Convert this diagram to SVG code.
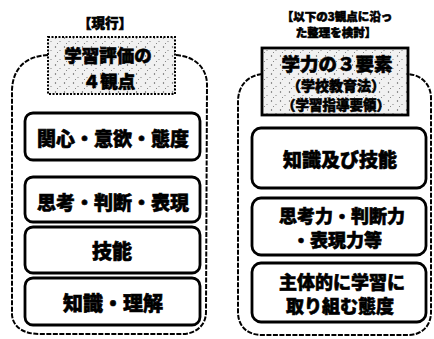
<svg xmlns="http://www.w3.org/2000/svg" width="434" height="339" viewBox="0 0 434 339">
<defs>
<pattern id="stip" width="9" height="9" patternUnits="userSpaceOnUse">
<rect width="9" height="9" fill="#f1f1f1"/>
<circle cx="1.5" cy="2" r="0.7" fill="#555"/>
<circle cx="6" cy="5.5" r="0.6" fill="#777"/>
<circle cx="3.5" cy="7.5" r="0.5" fill="#666"/>
</pattern>
<style>
.t{font-family:"Noto Sans CJK JP","Noto Sans CJK SC",sans-serif;font-weight:900;fill:#000;stroke:#000;stroke-width:0.6;text-anchor:middle;dominant-baseline:central}
.box{fill:#fff;stroke:#000;stroke-width:2.8}
.cont{fill:none;stroke:#000;stroke-width:2;stroke-dasharray:5 1.5}
</style>
</defs>
<g id="connectors">
<path class="cont" d="M48,55 C28,56 13,66 12,90 L12,315 C13,326 22,334 40,334 L182,334 C195,334 206,326 206,312 L207,85 C207,68 195,56 175,55"/>
<path class="cont" d="M262,74 C247,76 238,86 238,102 L238,312 C238,326 247,335 262,335 L408,335 C422,335 431,326 431,312 L431,98 C431,85 422,75 408,74"/>
</g>
<g id="title-left"><text class="t" x="105" y="22" font-size="13.5">【現行】</text></g>
<g id="title-right">
<text class="t" x="337" y="16" font-size="11.5">【以下の3観点に沿っ</text>
<text class="t" x="336" y="32" font-size="11.5">た整理を検討】</text>
</g>
<g id="header-left">
<rect x="48" y="37" width="127" height="57" fill="url(#stip)" stroke="#000" stroke-width="2" stroke-dasharray="2 1.5"/>
<text class="t" x="108" y="54" font-size="17.5">学習評価の</text>
<text class="t" x="109" y="80" font-size="17.5">４観点</text>
</g>
<g id="header-right">
<rect x="262" y="48" width="146" height="67" fill="url(#stip)" stroke="#000" stroke-width="2.8"/>
<text class="t" x="337" y="63" font-size="18.5">学力の３要素</text>
<text class="t" x="336" y="85" font-size="14">（学校教育法）</text>
<text class="t" x="336" y="104" font-size="13.5">（学習指導要領）</text>
</g>
<g id="l1"><rect class="box" x="25" y="113" width="175" height="47" rx="8"/><text class="t" x="113" y="137" font-size="19">関心・意欲・態度</text></g>
<g id="l2"><rect class="box" x="25" y="177" width="175" height="45" rx="8"/><text class="t" x="113" y="201" font-size="19">思考・判断・表現</text></g>
<g id="l3"><rect class="box" x="25" y="227" width="175" height="46" rx="8"/><text class="t" x="112" y="250" font-size="20">技能</text></g>
<g id="l4"><rect class="box" x="25" y="278" width="175" height="47" rx="8"/><text class="t" x="113" y="302" font-size="20">知識・理解</text></g>
<g id="r1"><rect class="box" x="252" y="128" width="174" height="60" rx="9"/><text class="t" x="340" y="158" font-size="19">知識及び技能</text></g>
<g id="r2"><rect class="box" x="252" y="198" width="174" height="57" rx="9"/><text class="t" x="342" y="215" font-size="18">思考力・判断力</text><text class="t" x="337" y="239" font-size="18">・表現力等</text></g>
<g id="r3"><rect class="box" x="252" y="263" width="174" height="59" rx="9"/><text class="t" x="342" y="281" font-size="18">主体的に学習に</text><text class="t" x="340" y="305" font-size="18">取り組む態度</text></g>
</svg>
